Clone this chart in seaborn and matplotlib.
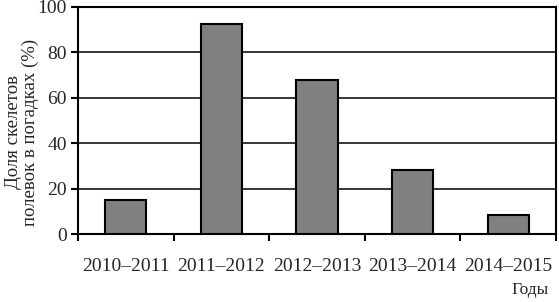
import matplotlib
matplotlib.use("Agg")
import matplotlib.pyplot as plt
import seaborn as sns
import pandas as pd
import numpy as np

years = ["2010–2011", "2011–2012", "2012–2013", "2013–2014", "2014–2015"]
values = [15, 92.5, 68, 28, 8.5]
yticks = [0, 20, 40, 60, 80, 100]

sns.set_style("white")
plt.rcParams["font.family"] = ["Liberation Serif", "DejaVu Serif"]

df = pd.DataFrame({"year": years, "value": values})

fig = plt.figure(figsize=(5.59, 3.02), dpi=100)
ax = fig.add_axes([0.1395, 0.225, 0.8551, 0.752])
sns.barplot(data=df, x="year", y="value", color="#808080", saturation=1,
            edgecolor="black", linewidth=1.5, width=0.43, ax=ax, zorder=3)

ax.set_ylim(0, 100)
ax.set_xlim(-0.5, len(years) - 0.5)
ax.set_yticks(yticks)
ax.yaxis.grid(True, color="black", linewidth=1.1, zorder=0)
ax.set_axisbelow(True)
for s in ["left", "right", "top", "bottom"]:
    ax.spines[s].set_visible(True)
    ax.spines[s].set_color("black")
    ax.spines[s].set_linewidth(1.5)

ax.tick_params(axis="y", which="major", direction="out", length=5, width=1.5,
               labelsize=14, pad=3, left=True, color="black")
ax.tick_params(axis="x", which="major", length=0, labelsize=14, pad=17)
ax.set_xticks(np.arange(-0.5, len(years) + 0.5, 1), minor=True)
ax.tick_params(axis="x", which="minor", direction="out", length=5, width=1.5,
               bottom=True, color="black")

ax.set_xlabel("")
ax.set_ylabel("")
fig.text(22 / 559, 1 - 132 / 302, "Доля скелетов\nполевок в погадках (%)",
         rotation=90, ha="center", va="center", fontsize=13.5,
         linespacing=1.05, multialignment="center")
fig.text(0.982, 0.04, "Годы", ha="right", va="center", fontsize=12.5)

fig.savefig("out.png", dpi=100)
